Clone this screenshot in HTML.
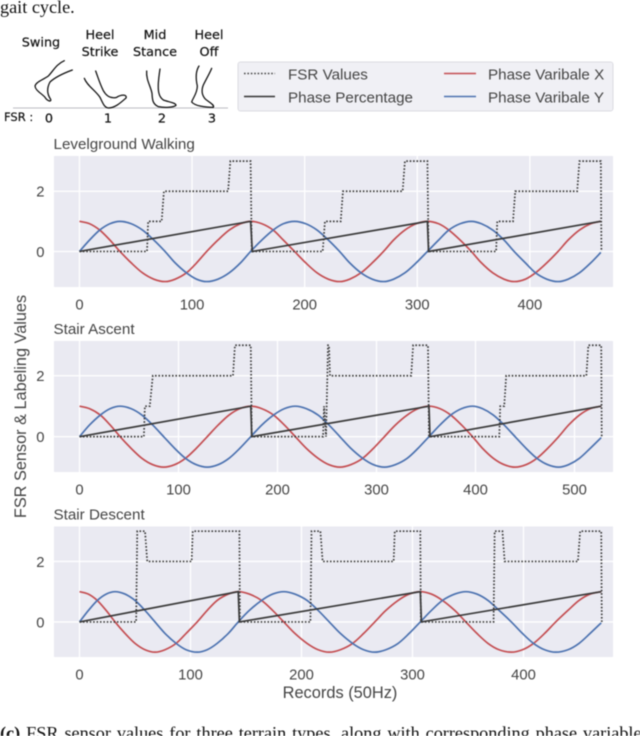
<!DOCTYPE html>
<html lang="en">
<head>
<meta charset="utf-8">
<title>FSR sensor and phase variables chart</title>
<style>
html,body{margin:0;padding:0;background:#fff;width:640px;height:736px;overflow:hidden}
#stage{position:absolute;left:0;top:0;display:block;filter:blur(.4px)}
text{font-family:"Liberation Sans",sans-serif;fill:#444}
.serif{font-family:"Liberation Serif",serif;fill:#111}
.sketch{fill:#111;stroke:#111;stroke-width:.2px;font-family:"DejaVu Sans",sans-serif;font-size:12.8px}
</style>
</head>
<body>
<svg id="stage" width="640" height="736" viewBox="0 0 640 736">
  <text class="serif" x="0" y="13" font-size="18.2">gait cycle.</text>

  <g>
    <line x1="13" y1="108" x2="228" y2="108" stroke="#bcbcc2" stroke-width="1"/>
    <g transform="scale(.33333)" fill="none" stroke="#111" stroke-width="3.8" stroke-linecap="round" stroke-linejoin="round">
      <path d="M193 182C170 192 160 212 145 228C128 240 108 246 105 258C106 272 125 280 135 292C142 304 155 306 152 298C143 285 138 268 150 246C165 232 190 220 217 210"/>
      <path d="M253 235C262 258 285 270 300 292C308 308 312 322 325 324C345 324 362 308 378 294C382 284 366 282 350 292C335 296 320 290 310 272C300 252 295 235 287 213"/>
      <path d="M440 213C438 240 452 258 456 280C457 300 458 312 475 320C495 324 520 322 528 316C528 308 505 306 490 300C475 290 474 270 475 250C476 235 478 220 480 207"/>
      <path d="M597 198C586 215 588 240 592 258C592 280 578 295 575 306C585 318 615 322 640 322C645 314 625 306 615 296C605 284 604 270 610 255C618 238 628 222 635 205"/>
    </g>
    <text class="sketch" x="41" y="46.5" text-anchor="middle">Swing</text>
    <text class="sketch" x="100" y="39" text-anchor="middle">Heel</text>
    <text class="sketch" x="100" y="56" text-anchor="middle">Strike</text>
    <text class="sketch" x="155" y="39" text-anchor="middle">Mid</text>
    <text class="sketch" x="155" y="56" text-anchor="middle">Stance</text>
    <text class="sketch" x="209" y="39" text-anchor="middle">Heel</text>
    <text class="sketch" x="209" y="56" text-anchor="middle">Off</text>
    <text class="sketch" x="4" y="121" style="font-size:11.5px">FSR :</text>
    <text class="sketch" x="49" y="122.5" text-anchor="middle">0</text>
    <text class="sketch" x="108" y="122.5" text-anchor="middle">1</text>
    <text class="sketch" x="162" y="122.5" text-anchor="middle">2</text>
    <text class="sketch" x="212" y="122.5" text-anchor="middle">3</text>
  </g>

  <g>
    <rect x="238" y="62" width="375" height="49" rx="2.5" fill="#f0f0f5" stroke="#dcdce2" stroke-width="1"/>
    <line x1="244" y1="73.5" x2="275" y2="73.5" stroke="#444" stroke-width="1.5" stroke-dasharray="1.6 1.8"/>
    <text x="288" y="79.5" font-size="15.2">FSR Values</text>
    <line x1="244" y1="96.5" x2="275" y2="96.5" stroke="#333" stroke-width="1.6"/>
    <text x="288" y="102.5" font-size="15.2">Phase Percentage</text>
    <line x1="444" y1="73.5" x2="476" y2="73.5" stroke="#c44e52" stroke-width="1.6"/>
    <text x="488" y="79.5" font-size="15.2">Phase Varibale X</text>
    <line x1="444" y1="96.5" x2="476" y2="96.5" stroke="#4c72b0" stroke-width="1.6"/>
    <text x="488" y="102.5" font-size="15.2">Phase Varibale Y</text>
  </g>

  <g id="charts"></g>

  <text transform="translate(26,406.5) rotate(-90)" text-anchor="middle" font-size="16.3">FSR Sensor &amp; Labeling Values</text>
  <text x="340" y="698" text-anchor="middle" font-size="16.4">Records (50Hz)</text>
  <text class="serif" x="0" y="739" font-size="18.2" style="word-spacing:1.4px"><tspan font-weight="bold">(c)</tspan> FSR sensor values for three terrain types, along with corresponding phase variable</text>
</svg>

<script>
// Shared value axis ticks
const yTickValues = [0, 2];

// Levelground Walking
const levelTitle = "Levelground Walking";
const levelTicks = [0, 100, 200, 300, 400];
const levelRecords = [0,9,18,27,36,46,56,66,76,85,95,104,113,123,133,143,152,162,172,181,191,201,211,221,231,240,250,260,270,279,289,299,309,319,328,338,348,357,367,377,386,396,405,415,425,434,444,454,463];
const levelPhaseX = [1,.92,.71,.38,0,-.38,-.71,-.92,-1,-.92,-.71,-.38,0,.38,.71,.92,1,.92,.71,.38,0,-.38,-.71,-.92,-1,-.92,-.71,-.38,0,.38,.71,.92,1,.92,.71,.38,0,-.38,-.71,-.92,-1,-.92,-.71,-.38,0,.38,.71,.92,1];
const levelPhaseY = [0,.38,.71,.92,1,.92,.71,.38,0,-.38,-.71,-.92,-1,-.92,-.71,-.38,0,.38,.71,.92,1,.92,.71,.38,0,-.38,-.71,-.92,-1,-.92,-.71,-.38,0,.38,.71,.92,1,.92,.71,.38,0,-.38,-.71,-.92,-1,-.92,-.71,-.38,-.03];
const levelPctRecords = [0,152,153.5,309,310,463];
const levelPctValues = [0,1,0,1,0,1];
const levelFsrRecords = [0,60,61,73,75,132,134,152,153,216,218,232,234,287,289,309,310,370,371,385,387,442,444,463,463.5];
const levelFsrValues = [0,0,1,1,2,2,3,3,0,0,1,1,2,2,3,3,0,0,1,1,2,2,3,3,0];

// Stair Ascent
const ascentTitle = "Stair Ascent";
const ascentTicks = [0, 100, 200, 300, 400, 500];
const ascentRecords = [0,10,21,31,41,52,63,74,85,96,107,118,129,140,151,162,173,184,196,207,218,229,241,252,263,274,286,297,308,319,331,342,353,364,375,386,397,407,418,429,440,451,462,473,484,494,505,516,527];
const ascentPhaseX = [1,.92,.71,.38,0,-.38,-.71,-.92,-1,-.92,-.71,-.38,0,.38,.71,.92,1,.92,.71,.38,0,-.38,-.71,-.92,-1,-.92,-.71,-.38,0,.38,.71,.92,1,.92,.71,.38,0,-.38,-.71,-.92,-1,-.92,-.71,-.38,0,.38,.71,.92,1];
const ascentPhaseY = [0,.38,.71,.92,1,.92,.71,.38,0,-.38,-.71,-.92,-1,-.92,-.71,-.38,0,.38,.71,.92,1,.92,.71,.38,0,-.38,-.71,-.92,-1,-.92,-.71,-.38,0,.38,.71,.92,1,.92,.71,.38,0,-.38,-.71,-.92,-1,-.92,-.71,-.38,-.03];
const ascentPctRecords = [0,173,174,353,354,527];
const ascentPctValues = [0,1,0,1,0,1];
const ascentFsrRecords = [0,65,66,71,74,155,157,173,174,246,247,249,251,252,253,335,337,352,353,424,425,429,431,512,514,527,527.5];
const ascentFsrValues = [0,0,1,1,2,2,3,3,0,0,1,0,3,3,2,2,3,3,0,0,1,1,2,2,3,3,0];

// Stair Descent
const descentTitle = "Stair Descent";
const descentTicks = [0, 100, 200, 300, 400];
const descentRecords = [0,8,16,24,32,41,50,59,68,77,87,96,106,115,124,134,143,153,164,174,184,194,205,215,225,235,246,256,266,276,287,297,307,317,327,338,348,358,368,378,389,399,409,419,429,440,450,460,470];
const descentPhaseX = [1,.92,.71,.38,0,-.38,-.71,-.92,-1,-.92,-.71,-.38,0,.38,.71,.92,1,.92,.71,.38,0,-.38,-.71,-.92,-1,-.92,-.71,-.38,0,.38,.71,.92,1,.92,.71,.38,0,-.38,-.71,-.92,-1,-.92,-.71,-.38,0,.38,.71,.92,1];
const descentPhaseY = [0,.38,.71,.92,1,.92,.71,.38,0,-.38,-.71,-.92,-1,-.92,-.71,-.38,0,.38,.71,.92,1,.92,.71,.38,0,-.38,-.71,-.92,-1,-.92,-.71,-.38,0,.38,.71,.92,1,.92,.71,.38,0,-.38,-.71,-.92,-1,-.92,-.71,-.38,-.03];
const descentPctRecords = [0,143,144,307,308,470];
const descentPctValues = [0,1,0,1,0,1];
const descentFsrRecords = [0,51,52,59,61,101,102,144,144.5,208,209,217,219,283,284,307,307.5,373,374,381,383,449,451,470,470.5];
const descentFsrValues = [0,0,3,3,2,2,3,3,0,0,3,3,2,2,3,3,0,0,3,3,2,2,3,3,0];

const NS = "http://www.w3.org/2000/svg";
const PLOT_LEFT = 54;
const PLOT_RIGHT = 613;

function makeLinearScale(domain, range) {
  return function (v) {
    return range[0] + (v - domain[0]) * (range[1] - range[0]) / (domain[1] - domain[0]);
  };
}

function smoothPath(px, py) {
  let d = "M" + px[0].toFixed(2) + " " + py[0].toFixed(2);
  for (let i = 0; i < px.length - 1; i++) {
    const a = Math.max(i - 1, 0), b = Math.min(i + 2, px.length - 1);
    const c1x = px[i] + (px[i + 1] - px[a]) / 6;
    const c1y = py[i] + (py[i + 1] - py[a]) / 6;
    const c2x = px[i + 1] - (px[b] - px[i]) / 6;
    const c2y = py[i + 1] - (py[b] - py[i]) / 6;
    d += "C" + c1x.toFixed(2) + " " + c1y.toFixed(2) + " " + c2x.toFixed(2) + " " + c2y.toFixed(2) + " " + px[i + 1].toFixed(2) + " " + py[i + 1].toFixed(2);
  }
  return d;
}

function straightPath(px, py) {
  return px.map(function (x, i) {
    return (i ? "L" : "M") + x.toFixed(2) + " " + py[i].toFixed(2);
  }).join("");
}

function drawPanel(root, p) {
  const x = makeLinearScale(p.xDomain, [PLOT_LEFT, PLOT_RIGHT]);
  const y = makeLinearScale(p.yDomain, [p.bottom, p.top]);

  const group = document.createElementNS(NS, "g");
  
  
  root.appendChild(group);

  const bg = document.createElementNS(NS, "rect");
  
  
  bg.setAttribute("x", PLOT_LEFT);
  bg.setAttribute("y", p.top);
  bg.setAttribute("width", PLOT_RIGHT - PLOT_LEFT);
  bg.setAttribute("height", p.bottom - p.top);
  bg.setAttribute("fill", "#eaeaf2");
  group.appendChild(bg);

  const title = document.createElementNS(NS, "text");
  
  
  title.setAttribute("x", PLOT_LEFT - 0.5);
  title.setAttribute("y", p.top - 7);
  title.setAttribute("font-size", "15.2");
  title.textContent = p.title;
  group.appendChild(title);

  p.xTicks.forEach(function (t) {
    const grid = document.createElementNS(NS, "line");
    
    
    grid.setAttribute("x1", x(t));
    grid.setAttribute("x2", x(t));
    grid.setAttribute("y1", p.top);
    grid.setAttribute("y2", p.bottom);
    grid.setAttribute("stroke", "#fff");
    grid.setAttribute("stroke-width", "1.3");
    group.appendChild(grid);

    const label = document.createElementNS(NS, "text");
    
    
    label.setAttribute("x", x(t));
    label.setAttribute("y", p.bottom + 22.5);
    label.setAttribute("text-anchor", "middle");
    label.setAttribute("font-size", "14.8");
    label.textContent = String(t);
    group.appendChild(label);
  });

  yTickValues.forEach(function (t) {
    const grid = document.createElementNS(NS, "line");
    
    
    grid.setAttribute("x1", PLOT_LEFT);
    grid.setAttribute("x2", PLOT_RIGHT);
    grid.setAttribute("y1", y(t));
    grid.setAttribute("y2", y(t));
    grid.setAttribute("stroke", "#fff");
    grid.setAttribute("stroke-width", "1.3");
    group.appendChild(grid);

    const label = document.createElementNS(NS, "text");
    
    
    label.setAttribute("x", 44.5);
    label.setAttribute("y", y(t) + 5.5);
    label.setAttribute("text-anchor", "end");
    label.setAttribute("font-size", "14.8");
    label.textContent = String(t);
    group.appendChild(label);
  });

  const redLine = document.createElementNS(NS, "path");
  
  
  redLine.setAttribute("d", smoothPath(p.records.map(x), p.phaseX.map(y)));
  redLine.setAttribute("fill", "none");
  redLine.setAttribute("stroke", "#c44e52");
  redLine.setAttribute("stroke-width", "1.7");
  group.appendChild(redLine);

  const blueLine = document.createElementNS(NS, "path");
  
  
  blueLine.setAttribute("d", smoothPath(p.records.map(x), p.phaseY.map(y)));
  blueLine.setAttribute("fill", "none");
  blueLine.setAttribute("stroke", "#4c72b0");
  blueLine.setAttribute("stroke-width", "1.7");
  group.appendChild(blueLine);

  const pctLine = document.createElementNS(NS, "path");
  
  
  pctLine.setAttribute("d", straightPath(p.pctRecords.map(x), p.pctValues.map(y)));
  pctLine.setAttribute("fill", "none");
  pctLine.setAttribute("stroke", "#3a3a3a");
  pctLine.setAttribute("stroke-width", "1.7");
  group.appendChild(pctLine);

  const fsrLine = document.createElementNS(NS, "path");
  
  
  fsrLine.setAttribute("d", straightPath(p.fsrRecords.map(x), p.fsrValues.map(y)));
  fsrLine.setAttribute("fill", "none");
  fsrLine.setAttribute("stroke", "#3a3a3a");
  fsrLine.setAttribute("stroke-width", "1.7");
  fsrLine.setAttribute("stroke-dasharray", "1.6 1.8");
  group.appendChild(fsrLine);
}

const chartsRoot = document.getElementById("charts");

drawPanel(chartsRoot, {
  key: "levelground", title: levelTitle, top: 156, bottom: 287,
  xDomain: [-22.6, 473.8], yDomain: [-1.18, 3.17], xTicks: levelTicks,
  records: levelRecords, phaseX: levelPhaseX, phaseY: levelPhaseY,
  pctRecords: levelPctRecords, pctValues: levelPctValues,
  fsrRecords: levelFsrRecords, fsrValues: levelFsrValues
});
drawPanel(chartsRoot, {
  key: "stair-ascent", title: ascentTitle, top: 341, bottom: 472,
  xDomain: [-25.8, 538.9], yDomain: [-1.16, 3.14], xTicks: ascentTicks,
  records: ascentRecords, phaseX: ascentPhaseX, phaseY: ascentPhaseY,
  pctRecords: ascentPctRecords, pctValues: ascentPctValues,
  fsrRecords: ascentFsrRecords, fsrValues: ascentFsrValues
});
drawPanel(chartsRoot, {
  key: "stair-descent", title: descentTitle, top: 526.5, bottom: 657,
  xDomain: [-23, 480.6], yDomain: [-1.16, 3.155], xTicks: descentTicks,
  records: descentRecords, phaseX: descentPhaseX, phaseY: descentPhaseY,
  pctRecords: descentPctRecords, pctValues: descentPctValues,
  fsrRecords: descentFsrRecords, fsrValues: descentFsrValues
});
</script>
</body>
</html>
